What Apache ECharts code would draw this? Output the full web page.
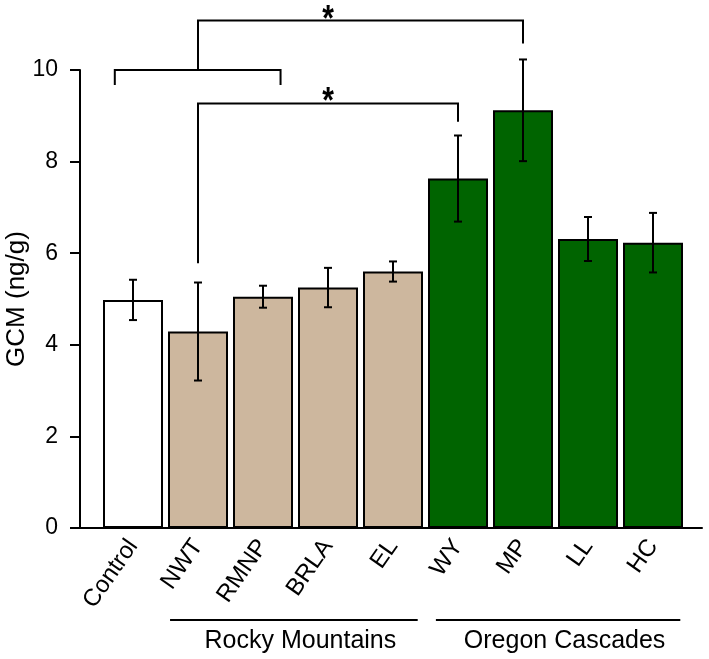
<!DOCTYPE html>
<html><head><meta charset="utf-8">
<script src="https://cdn.jsdelivr.net/npm/echarts@6/dist/echarts.min.js"></script>
<style>html,body{margin:0;padding:0;background:#fff}#c{width:709px;height:659px}</style>
</head><body><div id="c"></div>
<script>
// ---- data ----
const categories = ['Control', 'NWT', 'RMNP', 'BRLA', 'EL', 'WY', 'MP', 'LL', 'HC'];
const means = [4.98, 4.29, 5.05, 5.25, 5.60, 7.63, 9.12, 6.31, 6.23];
const errors = [0.44, 1.07, 0.24, 0.43, 0.22, 0.94, 1.11, 0.48, 0.65];
const siteGroup = ['control', 'rocky', 'rocky', 'rocky', 'rocky', 'oregon', 'oregon', 'oregon', 'oregon'];
const yTicks = [0, 2, 4, 6, 8, 10];
const regionNames = ['Rocky Mountains', 'Oregon Cascades'];
const regionSpans = [[0.57, 4.38], [4.66, 8.42]];
// brackets: [x1, x2, yTop, yLeftEnd, yRightEnd]  (x in category-index units)
const brackets = [[-0.28, 2.27, 10.0, 9.67, 9.67], [1, 6, 11.08, 10.0, 10.58], [1, 5, 9.27, 5.78, 8.87]];
const stars = [[3, 11.06], [3, 9.27]];

const groupColors = { control: '#ffffff', rocky: '#cdb79e', oregon: '#006400' };
const FONT = 'Liberation Sans';

const chart = echarts.init(document.getElementById('c'), null, { renderer: 'canvas' });

const barData = means.map((v, i) => ({ value: v, itemStyle: { color: groupColors[siteGroup[i]] } }));
const errData = means.map((v, i) => [i, v - errors[i], v + errors[i]]);

// map fractional category position to pixel via the axis scale
function px(api, x, y) {
  const p0 = api.coord([0, y]);
  const band = api.size([1, 0])[0];
  return [p0[0] + x * band, p0[1]];
}

chart.setOption({
  animation: false,
  backgroundColor: '#fff',
  grid: [
    { left: 80, right: 7, top: 70, bottom: 131, containLabel: false, outerBoundsMode: 'none' },
    { left: 100.5, right: 23.5, top: 70, bottom: 131, containLabel: false, outerBoundsMode: 'none' }
  ],
  xAxis: [
    { gridIndex: 0, type: 'value', min: 0, max: 1, axisLine: { show: true, lineStyle: { color: '#000', width: 2 } },
      axisTick: { show: false }, axisLabel: { show: false }, splitLine: { show: false } },
    { gridIndex: 1, type: 'category', data: categories, boundaryGap: true,
      axisLine: { show: false }, axisTick: { show: false }, splitLine: { show: false },
      axisLabel: { interval: 0, rotate: 55, margin: 14, color: '#000', fontSize: 24, fontFamily: FONT } }
  ],
  yAxis: [
    { gridIndex: 0, type: 'value', min: 0, max: 10, interval: 2,
      axisLine: { show: true, lineStyle: { color: '#000', width: 2 } },
      axisTick: { show: true, length: 10, lineStyle: { color: '#000', width: 2 } },
      axisLabel: { margin: 22, color: '#000', fontSize: 23, fontFamily: FONT,
        formatter: v => (yTicks.indexOf(v) >= 0 ? String(v) : '') },
      splitLine: { show: false },
      name: 'GCM (ng/g)', nameLocation: 'middle', nameRotate: 90, nameGap: 50, nameMoveOverlap: false,
      nameTextStyle: { color: '#000', fontSize: 26, fontFamily: FONT } },
    { gridIndex: 1, type: 'value', min: 0, max: 10, interval: 2, show: false }
  ],
  series: [
    { type: 'bar', xAxisIndex: 1, yAxisIndex: 1, data: barData, barWidth: 60,
      itemStyle: { borderColor: '#000', borderWidth: 2 } },
    { type: 'custom', xAxisIndex: 1, yAxisIndex: 1, data: errData, z: 5,
      renderItem: (params, api) => {
        const x = api.value(0);
        const lo = api.coord([x, api.value(1)]);
        const hi = api.coord([x, api.value(2)]);
        const w = 4;
        const st = { stroke: '#000', lineWidth: 2 };
        return { type: 'group', children: [
          { type: 'line', shape: { x1: lo[0], y1: lo[1], x2: hi[0], y2: hi[1] }, style: st },
          { type: 'line', shape: { x1: lo[0] - w, y1: lo[1], x2: lo[0] + w, y2: lo[1] }, style: st },
          { type: 'line', shape: { x1: hi[0] - w, y1: hi[1], x2: hi[0] + w, y2: hi[1] }, style: st }
        ] };
      } },
    { type: 'custom', xAxisIndex: 1, yAxisIndex: 1, data: brackets, z: 5, clip: false,
      renderItem: (params, api) => {
        const x1 = api.value(0), x2 = api.value(1), yT = api.value(2), yl = api.value(3), yr = api.value(4);
        const a = px(api, x1, yl), b = px(api, x1, yT), c = px(api, x2, yT), d = px(api, x2, yr);
        return { type: 'polyline', shape: { points: [a, b, c, d] }, style: { stroke: '#000', lineWidth: 2, fill: null } };
      } },
    { type: 'custom', xAxisIndex: 1, yAxisIndex: 1, data: stars, z: 6, clip: false,
      renderItem: (params, api) => {
        const p = px(api, api.value(0), api.value(1));
        return { type: 'text', x: p[0], y: p[1], scaleY: 1.2, style: { text: '*', fill: '#000', fontSize: 30, fontFamily: FONT,
          fontWeight: 'bold', align: 'center', verticalAlign: 'middle' } };
      } },
    { type: 'custom', xAxisIndex: 1, yAxisIndex: 1, data: regionSpans, z: 6, clip: false,
      renderItem: (params, api) => {
        const x1 = api.value(0), x2 = api.value(1);
        const a = px(api, x1, -2.01), b = px(api, x2, -2.01);
        const t = px(api, (x1 + x2) / 2 + 0.1, -2.47);
        return { type: 'group', children: [
          { type: 'line', shape: { x1: a[0], y1: a[1], x2: b[0], y2: b[1] }, style: { stroke: '#000', lineWidth: 2 } },
          { type: 'text', x: t[0], y: t[1], style: { text: regionNames[params.dataIndex], fill: '#000', fontSize: 25,
            fontFamily: FONT, align: 'center', verticalAlign: 'middle' } }
        ] };
      } }
  ]
});
</script></body></html>
